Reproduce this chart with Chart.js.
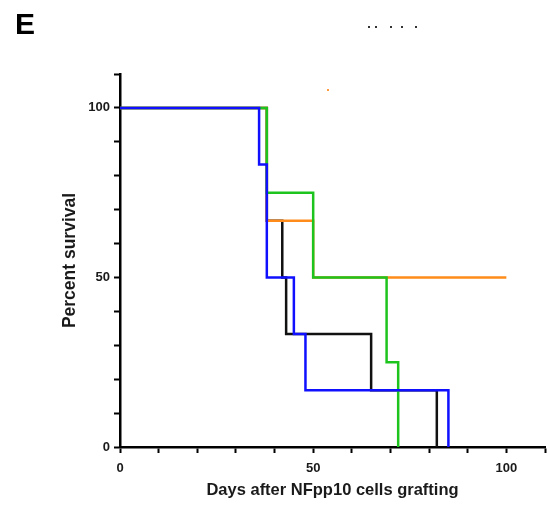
<!DOCTYPE html>
<html>
<head>
<meta charset="utf-8">
<script src="https://cdn.jsdelivr.net/npm/chart.js@4/dist/chart.umd.min.js"></script>
<style>
  html, body { margin:0; padding:0; background:#fff; }
  #wrap { width:550px; height:508px; }
</style>
</head>
<body>
<div id="wrap"><canvas id="survival" width="550" height="508"></canvas></div>
<script>

// SURVIVAL DATA (Kaplan-Meier steps: day of event, percent surviving after it)

const blueDays   = [0, 36, 38, 45, 48, 85];
const blueSurv   = [100, 83.3, 50, 33.3, 16.7, 0];

const greenDays  = [0, 38, 50, 69, 72];
const greenSurv  = [100, 75, 50, 25, 0];

const orangeDays = [0, 38, 50, 100];
const orangeSurv = [100, 66.7, 50, 50];

const blackDays  = [0, 38, 42, 43, 65, 82];
const blackSurv  = [100, 66.7, 50, 33.3, 16.7, 0];

const xLabels = [0, 50, 100];
const yLabels = [0, 50, 100];

function toPoints(days, surv){
    return days.map((d, i) => ({ x: d, y: surv[i] }));
}

function stepSet(days, surv, color){
    return {
        data: toPoints(days, surv),
        borderColor: color,
        borderWidth: 2.5,
        stepped: true,
        pointRadius: 0,
        fill: false
    };
}

// PANEL LETTER AND LEFTOVER MARKS AT THE TOP

const panelLetter = {
    id: "panelLetter",
    afterDraw(chart){
        const ctx = chart.ctx;
        ctx.save();
        ctx.fillStyle = "#000";
        ctx.font = "bold 30px 'Liberation Sans', Arial, sans-serif";
        ctx.textBaseline = "alphabetic";
        ctx.fillText("E", 15, 34);

        ctx.fillStyle = "#333";
        [368, 375, 390, 401, 415].forEach(x => ctx.fillRect(x, 26, 2, 2));

        ctx.fillStyle = "#ff9a40";
        ctx.fillRect(327, 89, 2, 2);
        ctx.restore();
    }
};

const axisFont = { family: "'Liberation Sans', Arial, sans-serif", size: 13, weight: "bold" };
const xTitleFont = { family: "'Liberation Sans', Arial, sans-serif", size: 16.5, weight: "bold" };
const yTitleFont = { family: "'Liberation Sans', Arial, sans-serif", size: 17.5, weight: "bold" };

// first dataset is drawn on top: blue, green, orange, black
new Chart(document.getElementById("survival"), {

    type: "line",

    data: {
        datasets: [
            stepSet(blueDays, blueSurv, "#1010ff"),
            stepSet(greenDays, greenSurv, "#1ec41e"),
            stepSet(orangeDays, orangeSurv, "#ff8c1a"),
            stepSet(blackDays, blackSurv, "#111111")
        ]
    },

    options: {
        responsive: false,
        animation: false,
        layout: { padding: { left: 0, top: 74, right: 5, bottom: 0 } },
        plugins: {
            legend: { display: false },
            tooltip: { enabled: false }
        },
        scales: {
            x: {
                type: "linear",
                min: 0,
                max: 110,
                afterFit(scale){
                    scale.height = 61;
                    scale.paddingLeft = 0;
                    scale.paddingRight = 0;
                },
                border: { color: "#000", width: 2.5 },
                grid: {
                    drawOnChartArea: false,
                    tickLength: 6,
                    tickWidth: 2,
                    tickColor: "#000"
                },
                ticks: {
                    stepSize: 10,
                    autoSkip: false,
                    maxRotation: 0,
                    padding: 8,
                    color: "#1a1a1a",
                    font: axisFont,
                    callback: v => xLabels.includes(v) ? String(v) : ""
                },
                title: {
                    display: true,
                    text: "Days after NFpp10 cells grafting",
                    color: "#1a1a1a",
                    font: xTitleFont,
                    padding: { top: 0, bottom: 8 }
                }
            },
            y: {
                min: 0,
                max: 110,
                afterFit(scale){ scale.width = 120; },
                border: { color: "#000", width: 2.5 },
                grid: {
                    drawOnChartArea: false,
                    tickLength: 6,
                    tickWidth: 2,
                    tickColor: "#000"
                },
                ticks: {
                    stepSize: 10,
                    autoSkip: false,
                    padding: 4,
                    color: "#1a1a1a",
                    font: axisFont,
                    callback: v => yLabels.includes(v) ? String(v) : ""
                },
                title: {
                    display: true,
                    text: "Percent survival",
                    color: "#1a1a1a",
                    font: yTitleFont,
                    padding: { top: 60, bottom: 0 }
                }
            }
        }
    },

    plugins: [panelLetter]
});
</script>
</body>
</html>
